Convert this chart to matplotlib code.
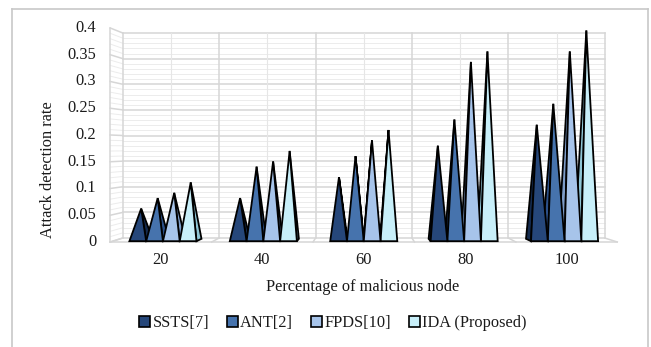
import matplotlib
matplotlib.use("Agg")
import matplotlib.pyplot as plt
from matplotlib.patches import Polygon, Patch
from matplotlib.lines import Line2D

plt.rcParams['font.family'] = ['Liberation Serif', 'DejaVu Serif']

categories = ['20', '40', '60', '80', '100']
series_names = ['SSTS[7]', 'ANT[2]', 'FPDS[10]', 'IDA (Proposed)']
sst = [0.06, 0.08, 0.12, 0.18, 0.22]
ant = [0.08, 0.14, 0.16, 0.23, 0.26]
fpds = [0.09, 0.15, 0.19, 0.34, 0.36]
ida = [0.11, 0.17, 0.21, 0.36, 0.40]
y_ticks = [0, 0.05, 0.1, 0.15, 0.2, 0.25, 0.3, 0.35, 0.4]
y_tick_labels = ['0', '0.05', '0.1', '0.15', '0.2', '0.25', '0.3', '0.35', '0.4']

series = [sst, ant, fpds, ida]
face_colors = ['#26477A', '#4673AD', '#A7C4EA', '#C8EFF9']
side_colors = ['#142a4d', '#2c5088', '#7d9cc8', '#8fc6d6']

# simple perspective: d=-1 is the front plane, d=+1 the back wall
XC = 2.5
KX, KY, DY = 0.0253, 0.0215, 0.0038
YMAX = 0.4
FS = 11.8
TXT = '#1a1a1a'


def proj(x, y, d):
    return XC + (x - XC) * (1 - KX * d), DY * d + y * (1 - KY * d)


fig = plt.figure(figsize=(6.51, 3.47), dpi=100)
ax = fig.add_axes([116.5 / 651, 1 - 240 / 347, 494.5 / 651, 209.5 / 347])
ax.set_xlim(0, len(categories))
ax.set_ylim(0, YMAX)
ax.axis('off')

major_c, minor_c = '#d6d6d6', '#ececec'


def seg(p, q, **kw):
    ax.add_line(Line2D([p[0], q[0]], [p[1], q[1]], clip_on=False, **kw))


# back wall and left side wall gridlines
for k in range(41):
    v = k * 0.01
    major = k % 5 == 0
    kw = dict(color=major_c if major else minor_c, lw=1.1 if major else 0.7,
              zorder=1 if major else 0.5)
    seg(proj(0, v, 1), proj(len(categories), v, 1), **kw)
    seg(proj(0, v, -1), proj(0, v, 1), **kw)

for k in range(2 * len(categories) + 1):
    x = k / 2
    major = k % 2 == 0
    seg(proj(x, 0, 1), proj(x, YMAX, 1), color=major_c if major else '#e6e6e6',
        lw=1.1 if major else 0.8, zorder=1)

# floor
seg(proj(0, 0, -1), proj(len(categories), 0, -1), color=major_c, lw=1.1, zorder=1)
for k in range(len(categories) + 1):
    seg(proj(k, 0, -1), proj(k, 0, 1), color=major_c, lw=1.1, zorder=1)
seg(proj(0, 0, -1), proj(0, YMAX, -1), color=major_c, lw=1.1, zorder=1)

# pyramids
W = 0.167
DEPTH = 0.6
items = []
for i in range(len(categories)):
    for j, vals in enumerate(series):
        xc = i + 0.5 + (j - 1.5) * W
        items.append((abs(xc - XC), xc, vals[i], j))
items.sort(key=lambda t: -t[0])

for n, (_, xc, v, j) in enumerate(items):
    x0, x1 = xc - W / 2, xc + W / 2
    apex = proj(xc, v, 0)
    if xc < XC:
        side = [proj(x1, 0, -DEPTH), proj(x1, 0, DEPTH), apex]
    else:
        side = [proj(x0, 0, -DEPTH), proj(x0, 0, DEPTH), apex]
    front = [proj(x0, 0, -DEPTH), proj(x1, 0, -DEPTH), apex]
    z = 3 + n * 0.01
    ax.add_patch(Polygon(side, closed=True, fc=side_colors[j], ec='black',
                         lw=1.3, joinstyle='miter', clip_on=False, zorder=z))
    ax.add_patch(Polygon(front, closed=True, fc=face_colors[j], ec='black',
                         lw=1.3, joinstyle='miter', clip_on=False, zorder=z + 0.005))

# axis labels
for t, lab in zip(y_ticks, y_tick_labels):
    x, y = proj(0, t, -1)
    ax.annotate(lab, (x, y), xytext=(-10, 0), textcoords='offset points',
                ha='right', va='center', fontsize=FS, color=TXT,
                annotation_clip=False)
for i, lab in enumerate(categories):
    x, y = proj(i + 0.5, 0, -1)
    ax.annotate(lab, (x, y), xytext=(0, -13), textcoords='offset points',
                ha='center', va='center', fontsize=FS, color=TXT,
                annotation_clip=False)

fig.text(48 / 651, 1 - 170 / 347, 'Attack detection rate', rotation=90,
         ha='center', va='center', fontsize=FS, color=TXT)
fig.text(363 / 651, 1 - 287 / 347, 'Percentage of malicious node',
         ha='center', va='center', fontsize=FS, color=TXT)

handles = [Patch(fc=c, ec='black', lw=1.2) for c in face_colors]
fig.legend(handles, series_names, loc='center', bbox_to_anchor=(333 / 651, 1 - 323 / 347),
           ncol=4, frameon=False, fontsize=FS, handlelength=0.65, handleheight=0.65,
           handletextpad=0.15, columnspacing=1.1, labelcolor=TXT)

# chart area border
for xs, ys in [([12, 648], [9, 9]), ([12, 12], [9, 347]), ([648, 648], [9, 347])]:
    fig.add_artist(Line2D([x / 651 for x in xs], [1 - y / 347 for y in ys],
                          color='#c8c8c8', lw=1.2))

fig.savefig('out.png', dpi=100)
